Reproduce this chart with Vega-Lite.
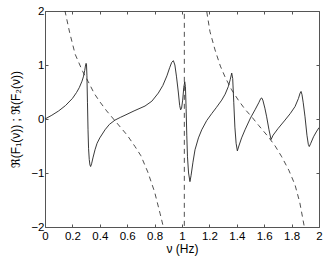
{
  "$schema": "https://vega.github.io/schema/vega-lite/v6.json",
  "width": 274,
  "height": 216,
  "autosize": {"type": "none"},
  "padding": {"left": 45, "top": 11, "right": 8, "bottom": 30},
  "background": "white",
  "config": {
    "view": {"stroke": null},
    "font": "Liberation Sans, Arial, DejaVu Sans",
    "axis": {
      "domainColor": "#555",
      "tickColor": "#555",
      "tickSize": -3,
      "grid": false,
      "labelColor": "black",
      "labelFontSize": 11.5,
      "titleFontSize": 12,
      "titleFontWeight": "normal",
      "titleColor": "black"
    }
  },
  "datasets": {
    "f1": [
      {"nu": 0, "v": 0}, {"nu": 0.05, "v": 0.07}, {"nu": 0.1, "v": 0.15}, {"nu": 0.15, "v": 0.25},
      {"nu": 0.2, "v": 0.38}, {"nu": 0.23, "v": 0.49}, {"nu": 0.25, "v": 0.58}, {"nu": 0.27, "v": 0.7},
      {"nu": 0.28, "v": 0.78}, {"nu": 0.29, "v": 0.9}, {"nu": 0.295, "v": 0.98}, {"nu": 0.3, "v": 1.03},
      {"nu": 0.303, "v": 1.0}, {"nu": 0.306, "v": 0.8}, {"nu": 0.31, "v": 0.3}, {"nu": 0.314, "v": -0.2},
      {"nu": 0.318, "v": -0.55}, {"nu": 0.323, "v": -0.75}, {"nu": 0.328, "v": -0.85}, {"nu": 0.333, "v": -0.88},
      {"nu": 0.34, "v": -0.83}, {"nu": 0.35, "v": -0.72}, {"nu": 0.365, "v": -0.57}, {"nu": 0.38, "v": -0.45},
      {"nu": 0.4, "v": -0.35}, {"nu": 0.438, "v": -0.2}, {"nu": 0.47, "v": -0.1}, {"nu": 0.511, "v": -0.02},
      {"nu": 0.55, "v": 0.03}, {"nu": 0.584, "v": 0.07}, {"nu": 0.65, "v": 0.15}, {"nu": 0.73, "v": 0.24},
      {"nu": 0.78, "v": 0.33}, {"nu": 0.827, "v": 0.48}, {"nu": 0.86, "v": 0.62}, {"nu": 0.89, "v": 0.8},
      {"nu": 0.91, "v": 0.95}, {"nu": 0.925, "v": 1.05}, {"nu": 0.937, "v": 1.08}, {"nu": 0.948, "v": 1.0},
      {"nu": 0.96, "v": 0.78}, {"nu": 0.973, "v": 0.5}, {"nu": 0.983, "v": 0.25}, {"nu": 0.99, "v": 0.17},
      {"nu": 0.997, "v": 0.2}, {"nu": 1.005, "v": 0.35}, {"nu": 1.013, "v": 0.58}, {"nu": 1.02, "v": 0.69},
      {"nu": 1.025, "v": 0.6}, {"nu": 1.03, "v": 0.2}, {"nu": 1.035, "v": -0.3}, {"nu": 1.04, "v": -0.7},
      {"nu": 1.048, "v": -1.0}, {"nu": 1.058, "v": -1.16}, {"nu": 1.066, "v": -1.05}, {"nu": 1.08, "v": -0.8},
      {"nu": 1.095, "v": -0.57}, {"nu": 1.12, "v": -0.35}, {"nu": 1.144, "v": -0.2}, {"nu": 1.18, "v": -0.03},
      {"nu": 1.217, "v": 0.1}, {"nu": 1.25, "v": 0.21}, {"nu": 1.29, "v": 0.35}, {"nu": 1.315, "v": 0.46},
      {"nu": 1.338, "v": 0.6}, {"nu": 1.352, "v": 0.73}, {"nu": 1.363, "v": 0.85}, {"nu": 1.37, "v": 0.75},
      {"nu": 1.378, "v": 0.3}, {"nu": 1.386, "v": -0.15}, {"nu": 1.395, "v": -0.45}, {"nu": 1.404, "v": -0.59},
      {"nu": 1.415, "v": -0.5}, {"nu": 1.435, "v": -0.35}, {"nu": 1.46, "v": -0.2}, {"nu": 1.5, "v": 0.02},
      {"nu": 1.533, "v": 0.17}, {"nu": 1.56, "v": 0.3}, {"nu": 1.575, "v": 0.38}, {"nu": 1.582, "v": 0.39},
      {"nu": 1.59, "v": 0.35}, {"nu": 1.605, "v": 0.2}, {"nu": 1.618, "v": 0.04}, {"nu": 1.635, "v": -0.2},
      {"nu": 1.65, "v": -0.38}, {"nu": 1.665, "v": -0.3}, {"nu": 1.7, "v": -0.18}, {"nu": 1.752, "v": -0.02},
      {"nu": 1.79, "v": 0.1}, {"nu": 1.825, "v": 0.23}, {"nu": 1.85, "v": 0.38}, {"nu": 1.862, "v": 0.48},
      {"nu": 1.869, "v": 0.51}, {"nu": 1.876, "v": 0.45}, {"nu": 1.885, "v": 0.3}, {"nu": 1.898, "v": 0.04},
      {"nu": 1.912, "v": -0.3}, {"nu": 1.922, "v": -0.47}, {"nu": 1.929, "v": -0.51}, {"nu": 1.94, "v": -0.45},
      {"nu": 1.96, "v": -0.33}, {"nu": 1.98, "v": -0.24}, {"nu": 2.0, "v": -0.16}
    ],
    "f2": [
      {"nu": 0.01, "v": 32}, {"nu": 0.03, "v": 10.6}, {"nu": 0.06, "v": 5.2}, {"nu": 0.1, "v": 3.1},
      {"nu": 0.13, "v": 2.3}, {"nu": 0.146, "v": 2.0}, {"nu": 0.18, "v": 1.6}, {"nu": 0.22, "v": 1.2},
      {"nu": 0.275, "v": 0.88}, {"nu": 0.316, "v": 0.69}, {"nu": 0.36, "v": 0.47}, {"nu": 0.4, "v": 0.32},
      {"nu": 0.45, "v": 0.15}, {"nu": 0.5, "v": 0.0}, {"nu": 0.55, "v": -0.15}, {"nu": 0.6, "v": -0.3},
      {"nu": 0.657, "v": -0.51}, {"nu": 0.7, "v": -0.68}, {"nu": 0.75, "v": -0.98}, {"nu": 0.8, "v": -1.35},
      {"nu": 0.84, "v": -1.75}, {"nu": 0.864, "v": -2.0}, {"nu": 0.9, "v": -2.8}, {"nu": 0.95, "v": -5.5},
      {"nu": 0.99, "v": -20}, {"nu": 1.016, "v": -200}, {"nu": 1.018, "v": 200}, {"nu": 1.05, "v": 15},
      {"nu": 1.1, "v": 5}, {"nu": 1.15, "v": 2.6}, {"nu": 1.18, "v": 2.0}, {"nu": 1.204, "v": 1.62},
      {"nu": 1.241, "v": 1.28}, {"nu": 1.28, "v": 0.98}, {"nu": 1.314, "v": 0.78}, {"nu": 1.36, "v": 0.55},
      {"nu": 1.411, "v": 0.35}, {"nu": 1.46, "v": 0.18}, {"nu": 1.509, "v": 0.04}, {"nu": 1.56, "v": -0.12},
      {"nu": 1.63, "v": -0.33}, {"nu": 1.68, "v": -0.5}, {"nu": 1.728, "v": -0.7}, {"nu": 1.78, "v": -0.95},
      {"nu": 1.825, "v": -1.22}, {"nu": 1.86, "v": -1.55}, {"nu": 1.893, "v": -2.0}, {"nu": 1.94, "v": -3},
      {"nu": 2.0, "v": -5}
    ]
  },
  "layer": [
    {
      "data": {"name": "f1"},
      "mark": {"type": "line", "clip": true, "color": "#222", "strokeWidth": 0.9},
      "encoding": {
        "x": {"field": "nu", "type": "quantitative",
              "scale": {"domain": [0, 2], "nice": false, "zero": false},
              "axis": {"orient": "bottom", "values": [0, 0.2, 0.4, 0.6, 0.8, 1, 1.2, 1.4, 1.6, 1.8, 2],
                       "format": ".1~f",
                       "title": "ν (Hz)", "labelPadding": 6, "titlePadding": 2, "labelFlush": false}},
        "y": {"field": "v", "type": "quantitative",
              "scale": {"domain": [-2, 2], "nice": false, "zero": false},
              "axis": {"orient": "left", "values": [-2, -1, 0, 1, 2], "format": "d",
                       "title": "ℜ(F₁(ν)) ; ℜ(F₂(ν))", "labelPadding": 4, "titlePadding": 8, "labelFlush": false}},
        "order": {"value": null}
      }
    },
    {
      "data": {"name": "f2"},
      "mark": {"type": "line", "clip": true, "color": "#222", "strokeWidth": 0.8, "strokeDash": [5, 4]},
      "encoding": {
        "x": {"field": "nu", "type": "quantitative",
              "axis": {"orient": "top", "values": [0, 0.2, 0.4, 0.6, 0.8, 1, 1.2, 1.4, 1.6, 1.8, 2],
                       "labels": false, "title": null}},
        "y": {"field": "v", "type": "quantitative",
              "axis": {"orient": "right", "values": [-2, -1, 0, 1, 2], "labels": false, "title": null}},
        "order": {"value": null}
      }
    }
  ],
  "resolve": {"axis": {"x": "independent", "y": "independent"}}
}
